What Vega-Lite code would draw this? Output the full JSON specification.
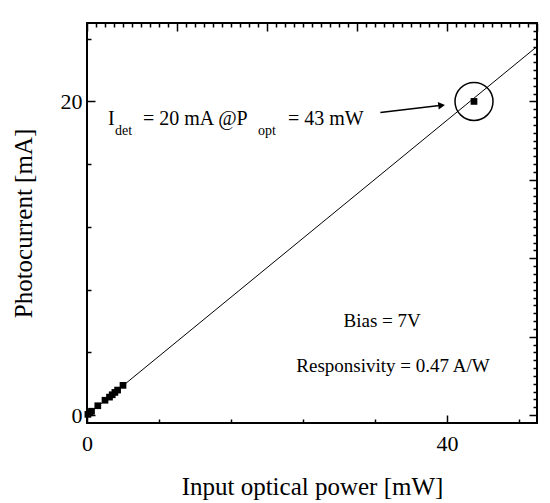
{
  "$schema": "https://vega.github.io/schema/vega-lite/v6.json",
  "width": 450,
  "height": 400,
  "autosize": "none",
  "padding": {"left": 87, "top": 23, "right": 13, "bottom": 80},
  "background": "white",
  "view": {"stroke": "black", "strokeWidth": 2},
  "datasets": {
    "measured": [
      {"power": 0.1, "current": 0.05},
      {"power": 0.3, "current": 0.15},
      {"power": 0.5, "current": 0.25},
      {"power": 1.2, "current": 0.6},
      {"power": 2.0, "current": 0.95},
      {"power": 2.5, "current": 1.15},
      {"power": 2.8, "current": 1.3},
      {"power": 3.1, "current": 1.45},
      {"power": 3.4, "current": 1.6},
      {"power": 4.0, "current": 1.9},
      {"power": 43, "current": 20}
    ],
    "fit": [
      {"power": 0, "current": 0},
      {"power": 50, "current": 23.5}
    ],
    "highlight": [{"power": 43, "current": 20}],
    "arrow": [{"power": 32.6, "current": 19.3, "power_end": 39.4, "current_end": 19.75}],
    "label_main": [
      {"power": 2.33, "current": 18.5, "text": "I"},
      {"power": 6.22, "current": 18.5, "text": "= 20 mA @P"},
      {"power": 22.33, "current": 18.5, "text": "= 43 mW"}
    ],
    "label_sub": [
      {"power": 3.11, "current": 17.86, "text": "det"},
      {"power": 19.0, "current": 17.86, "text": "opt"}
    ],
    "notes": [
      {"power": 32.8, "current": 5.62, "text": "Bias = 7V"},
      {"power": 34.0, "current": 2.75, "text": "Responsivity = 0.47 A/W"}
    ]
  },
  "resolve": {"axis": {"x": "independent", "y": "independent"}},
  "layer": [
    {
      "data": {"name": "fit"},
      "mark": {"type": "line", "color": "black", "strokeWidth": 1},
      "encoding": {
        "x": {
          "field": "power", "type": "quantitative",
          "scale": {"domain": [0, 50], "nice": false, "zero": false},
          "axis": {
            "orient": "top", "title": null, "labels": false, "domain": false,
            "gridOpacity": 0,
            "tickColor": "black", "tickWidth": 1.5, "tickSize": -8,
            "values": [0,1,2,3,4,5,6,7,8,9,10,11,12,13,14,15,16,17,18,19,20,21,22,23,24,25,26,27,28,29,30,31,32,33,34,35,36,37,38,39,40,41,42,43,44,45,46,47,48,49,50],
            "tickDash": {"condition": {"test": "datum.value % 10 !== 0", "value": [4, 20]}, "value": [20, 0]}
          }
        },
        "y": {
          "field": "current", "type": "quantitative",
          "scale": {"domain": [-0.5, 25], "nice": false, "zero": false},
          "axis": {
            "orient": "right", "title": null, "labels": false, "domain": false,
            "gridOpacity": 0,
            "tickColor": "black", "tickWidth": 1.5, "tickSize": -8,
            "values": [0,0.5,1,1.5,2,2.5,3,3.5,4,4.5,5,5.5,6,6.5,7,7.5,8,8.5,9,9.5,10,10.5,11,11.5,12,12.5,13,13.5,14,14.5,15,15.5,16,16.5,17,17.5,18,18.5,19,19.5,20,20.5,21,21.5,22,22.5,23,23.5,24,24.5,25],
            "tickDash": {"condition": {"test": "datum.value % 5 !== 0", "value": [4, 20]}, "value": [20, 0]}
          }
        }
      }
    },
    {
      "layer": [
        {
          "data": {"name": "measured"},
          "mark": {"type": "point", "shape": "square", "filled": true, "color": "black", "opacity": 1, "size": 45},
          "encoding": {
            "x": {
              "field": "power", "type": "quantitative",
              "scale": {"domain": [0, 50], "nice": false, "zero": false},
              "axis": {
                "orient": "bottom", "title": "Input optical power [mW]", "domain": false,
                "gridOpacity": 0,
                "tickColor": "black", "tickWidth": 1.5, "tickSize": -8,
                "values": [0,1,2,3,4,5,6,7,8,9,10,11,12,13,14,15,16,17,18,19,20,21,22,23,24,25,26,27,28,29,30,31,32,33,34,35,36,37,38,39,40,41,42,43,44,45,46,47,48,49,50],
                "tickDash": {"condition": {"test": "datum.value % 10 !== 0", "value": [4, 20]}, "value": [20, 0]},
                "format": "d",
                "labelExpr": "datum.value % 10 === 0 ? datum.label : ''",
                "labelFont": "Liberation Serif", "labelFontSize": 22, "labelColor": "black",
                "labelFlush": false, "labelOverlap": false, "labelPadding": 18,
                "titleFont": "Liberation Serif", "titleFontSize": 25, "titleFontWeight": "normal", "titleColor": "black",
                "titlePadding": 20
              }
            },
            "y": {
              "field": "current", "type": "quantitative",
              "scale": {"domain": [-0.5, 25], "nice": false, "zero": false},
              "axis": {
                "orient": "left", "title": "Photocurrent [mA]", "domain": false,
                "gridOpacity": 0,
                "tickColor": "black", "tickWidth": 1.5, "tickSize": -8,
                "values": [0,0.5,1,1.5,2,2.5,3,3.5,4,4.5,5,5.5,6,6.5,7,7.5,8,8.5,9,9.5,10,10.5,11,11.5,12,12.5,13,13.5,14,14.5,15,15.5,16,16.5,17,17.5,18,18.5,19,19.5,20,20.5,21,21.5,22,22.5,23,23.5,24,24.5,25],
                "tickDash": {"condition": {"test": "datum.value % 5 !== 0", "value": [4, 20]}, "value": [20, 0]},
                "format": "d",
                "labelExpr": "datum.value % 5 === 0 ? datum.label : ''",
                "labelFont": "Liberation Serif", "labelFontSize": 22, "labelColor": "black",
                "labelFlush": false, "labelOverlap": false, "labelPadding": 13,
                "titleFont": "Liberation Serif", "titleFontSize": 25, "titleFontWeight": "normal", "titleColor": "black",
                "titlePadding": 24
              }
            }
          }
        },
        {
          "data": {"name": "highlight"},
          "mark": {"type": "point", "shape": "circle", "filled": false, "color": "black", "opacity": 1, "strokeWidth": 1.5, "size": 1444},
          "encoding": {
            "x": {"field": "power", "type": "quantitative"},
            "y": {"field": "current", "type": "quantitative"}
          }
        },
        {
          "data": {"name": "arrow"},
          "mark": {"type": "rule", "color": "black", "strokeWidth": 1.5},
          "encoding": {
            "x": {"field": "power", "type": "quantitative"},
            "y": {"field": "current", "type": "quantitative"},
            "x2": {"field": "power_end"},
            "y2": {"field": "current_end"}
          }
        },
        {
          "data": {"name": "arrow"},
          "mark": {"type": "point", "shape": "triangle-right", "filled": true, "color": "black", "opacity": 1, "size": 60, "angle": -7},
          "encoding": {
            "x": {"field": "power_end", "type": "quantitative"},
            "y": {"field": "current_end", "type": "quantitative"}
          }
        },
        {
          "data": {"name": "label_main"},
          "mark": {"type": "text", "align": "left", "baseline": "alphabetic", "fontSize": 20, "font": "Liberation Serif", "color": "black"},
          "encoding": {
            "x": {"field": "power", "type": "quantitative"},
            "y": {"field": "current", "type": "quantitative"},
            "text": {"field": "text"}
          }
        },
        {
          "data": {"name": "label_sub"},
          "mark": {"type": "text", "align": "left", "baseline": "alphabetic", "fontSize": 14, "font": "Liberation Serif", "color": "black"},
          "encoding": {
            "x": {"field": "power", "type": "quantitative"},
            "y": {"field": "current", "type": "quantitative"},
            "text": {"field": "text"}
          }
        },
        {
          "data": {"name": "notes"},
          "mark": {"type": "text", "align": "center", "baseline": "alphabetic", "fontSize": 19, "font": "Liberation Serif", "color": "black"},
          "encoding": {
            "x": {"field": "power", "type": "quantitative"},
            "y": {"field": "current", "type": "quantitative"},
            "text": {"field": "text"}
          }
        }
      ]
    }
  ]
}
